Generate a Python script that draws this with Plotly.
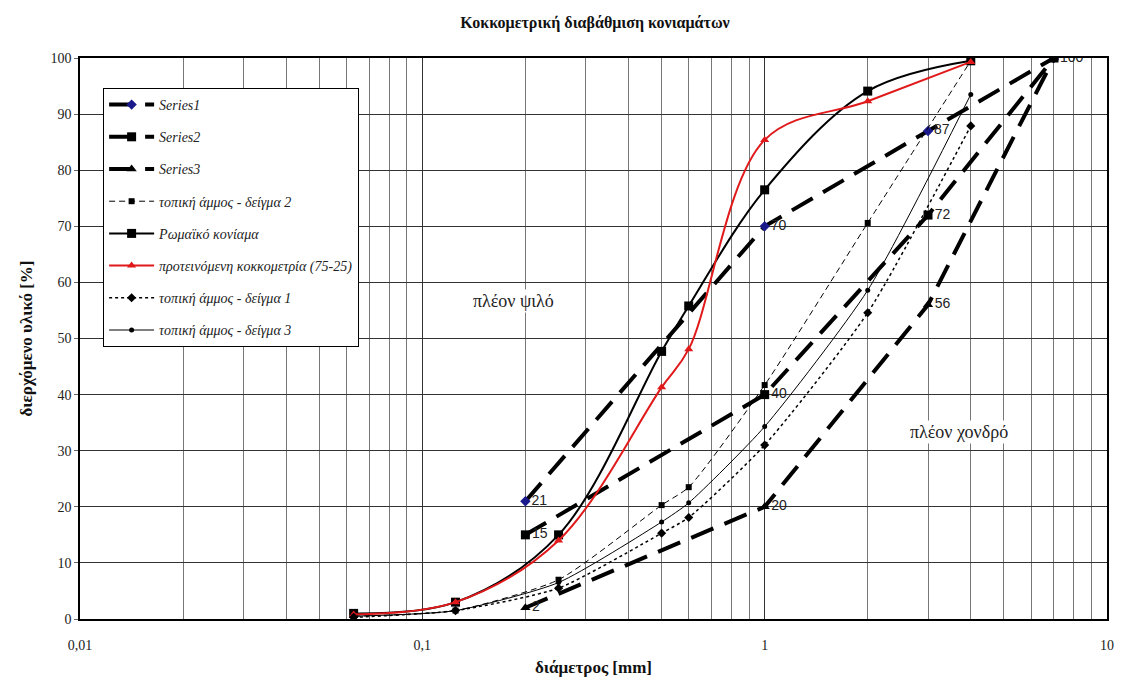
import plotly.graph_objects as go

# ---------------- data ----------------
sieves = [0.063, 0.125, 0.25, 0.5, 0.6, 1, 2, 4]

limit_x = [0.2, 1, 3, 7]
series1 = [21, 70, 87, 100]
series2 = [15, 40, 72, 100]
series3 = [2, 20, 56, 100]

sample2 = [0.5, 1.5, 7.0, 20.3, 23.5, 41.7, 70.6, 99.5]
roman = [1.0, 3.0, 15.0, 47.7, 55.8, 76.5, 94.1, 99.5]
proposed = [0.8, 3.0, 14.0, 41.3, 48.1, 85.4, 92.3, 99.3]
sample1 = [0.3, 1.5, 5.5, 15.3, 18.1, 31.0, 54.6, 87.9]
sample3 = [0.5, 1.5, 6.5, 17.3, 20.7, 34.3, 58.6, 93.5]

labels1 = ["21", "70", "87", "100"]
labels2 = ["15", "40", "72", ""]
labels3 = ["2", "20", "56", ""]

# ---------------- figure ----------------
fig = go.Figure()
lab_font = dict(family="Liberation Sans", size=14, color="#222")
long_dash = "24px,12px"

fig.add_trace(go.Scatter(
    x=limit_x, y=series1, name="Series1", legendgroup="g1",
    mode="lines+markers+text", text=labels1, textposition="middle right",
    textfont=lab_font,
    line=dict(color="black", width=4, dash=long_dash),
    marker=dict(symbol="diamond", size=8, color="#1a1a8c")))
fig.add_trace(go.Scatter(
    x=limit_x, y=series2, name="Series2", legendgroup="g2",
    mode="lines+markers+text", text=labels2, textposition="middle right",
    textfont=lab_font,
    line=dict(color="black", width=4, dash=long_dash),
    marker=dict(symbol="square", size=9, color="black")))
fig.add_trace(go.Scatter(
    x=limit_x, y=series3, name="Series3", legendgroup="g3",
    mode="lines+markers+text", text=labels3, textposition="middle right",
    textfont=lab_font,
    line=dict(color="black", width=4, dash=long_dash),
    marker=dict(symbol="triangle-up", size=9, color="black")))
fig.add_trace(go.Scatter(
    x=sieves, y=sample2, name="τοπική άμμος - δείγμα 2", legendgroup="g4",
    mode="lines+markers",
    line=dict(color="black", width=1, dash="6px,4px", shape="spline", smoothing=0.6),
    marker=dict(symbol="square", size=6, color="black")))
fig.add_trace(go.Scatter(
    x=sieves, y=roman, name="Ρωμαϊκό κονίαμα", legendgroup="g5",
    mode="lines+markers",
    line=dict(color="black", width=2, shape="spline", smoothing=1),
    marker=dict(symbol="square", size=9, color="black")))
fig.add_trace(go.Scatter(
    x=sieves, y=proposed, name="προτεινόμενη κοκκομετρία (75-25)", legendgroup="g6",
    mode="lines+markers",
    line=dict(color="#e0191b", width=2, shape="spline", smoothing=1),
    marker=dict(symbol="triangle-up", size=8, color="#e0191b")))
fig.add_trace(go.Scatter(
    x=sieves, y=sample1, name="τοπική άμμος - δείγμα 1", legendgroup="g7",
    mode="lines+markers",
    line=dict(color="black", width=1.5, dash="dot", shape="spline", smoothing=0.6),
    marker=dict(symbol="diamond", size=7, color="black")))
fig.add_trace(go.Scatter(
    x=sieves, y=sample3, name="τοπική άμμος - δείγμα 3", legendgroup="g8",
    mode="lines+markers",
    line=dict(color="black", width=1, shape="spline", smoothing=0.6),
    marker=dict(symbol="circle", size=5, color="black")))

serif = "Liberation Serif"

fig.update_layout(
    width=1118, height=681,
    margin=dict(l=72, r=15, t=50, b=70),
    paper_bgcolor="white", plot_bgcolor="white",
    separators=",.",
    title=dict(text="<b>Κοκκομετρική διαβάθμιση κονιαμάτων</b>",
               x=0.525, xanchor="center", y=0.979, yanchor="middle",
               font=dict(family=serif, size=16, color="#111")),
    legend=dict(x=0.0225, y=0.9465, xanchor="left", yanchor="top",
                bgcolor="white", bordercolor="black", borderwidth=1,
                font=dict(family=serif, size=14, color="#222", style="italic"),
                tracegroupgap=11, itemwidth=45),
    showlegend=True,
)

fig.update_xaxes(
    type="log", range=[-2, 1], dtick=1,
    showgrid=True, gridcolor="#333", gridwidth=1,
    minor=dict(dtick="D1", showgrid=True, gridcolor="#777", gridwidth=1),
    showline=True, linecolor="black", linewidth=1.5, mirror=True,
    ticks="", ticklabelstandoff=12,
    tickfont=dict(family=serif, size=14, color="#222"),
    title=dict(text="<b>διάμετρος [mm]</b>", standoff=10,
               font=dict(family=serif, size=17, color="#111")),
    zeroline=False,
)
fig.update_yaxes(
    range=[0, 100], dtick=10,
    showgrid=True, gridcolor="#333", gridwidth=1,
    showline=True, linecolor="black", linewidth=1.5, mirror=True,
    ticks="outside", ticklen=4, tickcolor="#666",
    tickfont=dict(family=serif, size=14, color="#222"),
    title=dict(text="<b>διερχόμενο υλικό [%]</b>", standoff=14,
               font=dict(family=serif, size=17, color="#111")),
    zeroline=False,
)

fig.add_annotation(x=-0.734, y=56.7, xref="x", yref="y", text="πλέον ψιλό",
                   showarrow=False, bgcolor="white",
                   font=dict(family=serif, size=18, color="#222"))
fig.add_annotation(x=0.569, y=33.3, xref="x", yref="y", text="πλέον χονδρό",
                   showarrow=False, bgcolor="white",
                   font=dict(family=serif, size=18, color="#222"))

fig.write_html("out.html")
